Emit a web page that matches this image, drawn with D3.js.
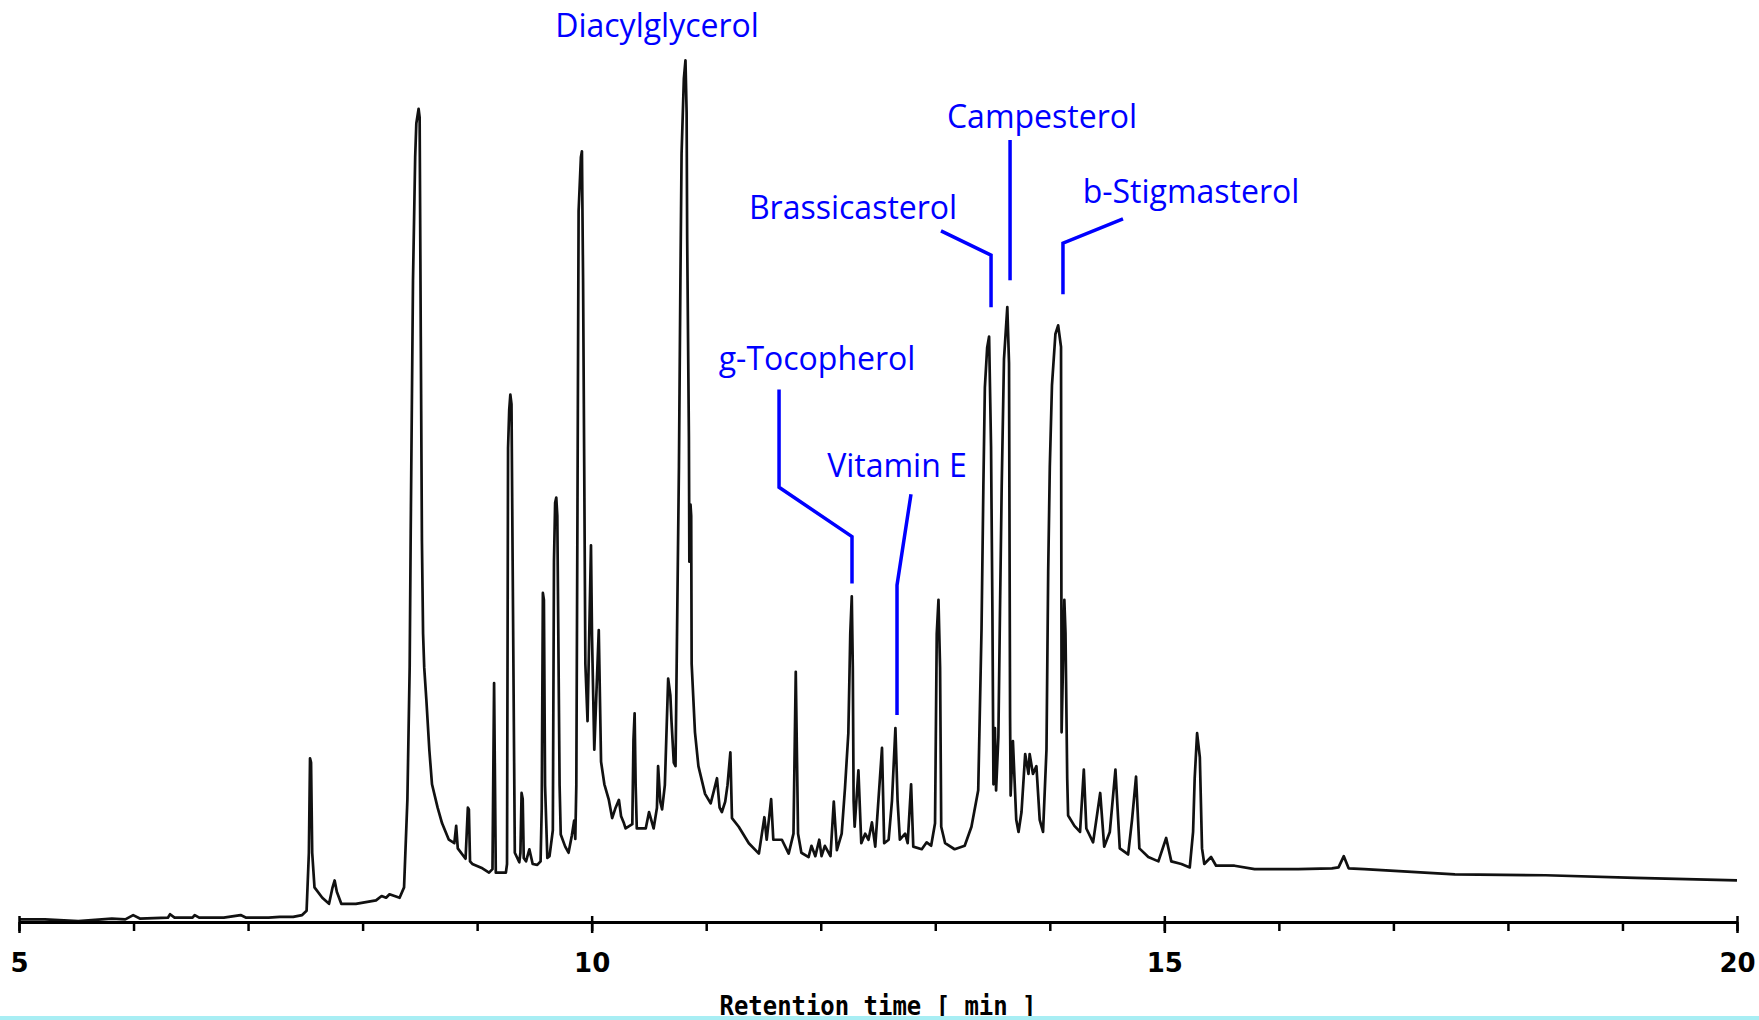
<!DOCTYPE html>
<html>
<head>
<meta charset="utf-8">
<script src="https://cdn.jsdelivr.net/npm/d3@7"></script>
<style>
  body { margin: 0; background: #fff; }
</style>
</head>
<body>
<svg id="chart" width="1759" height="1020"></svg>
<script>
// trace: [retention time (min), signal (% of highest peak)]
var earlyTrace = [[5.000,0.3],[5.225,0.3],[5.518,0.1],[5.811,0.4],[5.928,0.3],[5.997,0.8],[6.055,0.4],[6.300,0.5],[6.319,0.9],[6.358,0.5],[6.515,0.5],[6.534,0.8],[6.573,0.5],[6.788,0.5],[6.935,0.8],[6.984,0.5],[7.179,0.5],[7.277,0.6],[7.394,0.6],[7.472,0.8],[7.511,1.3],[7.531,8.0],[7.541,18.9],[7.550,18.4],[7.560,8.0],[7.580,4.0],[7.648,2.8],[7.707,2.1],[7.736,3.9],[7.756,4.8],[7.775,3.5],[7.814,2.1],[7.941,2.1],[8.117,2.5],[8.166,3.0],[8.205,2.8],[8.235,3.2],[8.323,2.8]];

var midTrace = [[8.362,4.0],[8.391,14.1],[8.411,29.4],[8.420,44.9],[8.440,74.1],[8.459,88.3],[8.469,92.2],[8.489,93.9],[8.498,92.9],[8.508,67.6],[8.518,44.0],[8.528,33.3],[8.538,29.4],[8.557,25.6],[8.583,19.8],[8.606,15.9],[8.655,13.2],[8.694,11.4],[8.753,9.5],[8.801,9.1],[8.817,11.1],[8.831,8.5],[8.899,7.3],[8.919,13.2],[8.928,13.0],[8.938,7.0],[8.958,6.7],[9.046,6.2],[9.104,5.7],[9.134,6.1],[9.148,27.6],[9.163,5.7],[9.251,5.7],[9.261,6.7],[9.270,54.7],[9.280,59.1],[9.290,60.9],[9.300,59.8],[9.310,41.7],[9.329,8.0],[9.368,6.9],[9.378,8.0],[9.388,14.9],[9.398,14.2],[9.407,7.4],[9.427,7.0],[9.456,8.4],[9.485,6.7],[9.525,6.6],[9.554,7.0],[9.564,13.2],[9.574,38.0],[9.583,37.2],[9.593,15.8],[9.613,7.4],[9.632,7.6],[9.661,10.6],[9.671,41.7],[9.681,48.4],[9.691,49.0],[9.700,46.9],[9.720,15.8],[9.730,10.1],[9.769,8.7],[9.798,8.0],[9.827,10.0],[9.847,11.7],[9.857,9.6],[9.866,15.8],[9.876,47.4],[9.886,82.1],[9.906,88.3],[9.915,89.0],[9.925,74.1],[9.935,52.6],[9.945,29.8],[9.964,23.2],[9.994,43.5],[10.003,33.0],[10.023,19.9],[10.062,33.7],[10.082,18.5],[10.111,15.9],[10.150,14.1],[10.179,12.0],[10.209,13.2],[10.238,14.1],[10.257,12.2],[10.282,11.4],[10.296,10.8],[10.355,11.3],[10.365,21.0],[10.375,24.1],[10.384,15.8],[10.394,10.8]];

var dagTrace = [[10.472,10.8],[10.501,12.7],[10.541,10.8],[10.570,13.2],[10.580,18.0],[10.599,13.9],[10.615,13.0],[10.639,15.8],[10.668,28.1],[10.687,26.2],[10.697,23.2],[10.717,18.4],[10.732,18.0],[10.762,52.6],[10.775,74.4],[10.785,88.7],[10.805,97.4],[10.819,99.5],[10.829,93.5],[10.834,78.8],[10.849,56.0],[10.853,41.6],[10.863,48.2],[10.869,46.9],[10.873,29.8],[10.902,21.9],[10.932,18.0],[10.990,14.8],[11.039,13.7],[11.068,15.2],[11.094,16.6],[11.117,13.2],[11.137,12.7],[11.166,13.9],[11.186,15.8],[11.211,19.6],[11.225,12.0],[11.284,11.0],[11.372,9.1],[11.460,7.9],[11.508,12.1],[11.528,9.5],[11.567,14.2],[11.586,9.5],[11.661,9.5],[11.720,7.9],[11.762,10.2],[11.782,28.9],[11.802,10.2],[11.831,8.0],[11.894,7.5],[11.919,8.8],[11.953,7.6],[11.987,9.5],[12.007,7.6],[12.036,8.8],[12.085,7.6],[12.114,13.9],[12.141,8.3],[12.183,10.2],[12.212,15.5],[12.241,21.8],[12.258,33.3],[12.271,37.6],[12.280,29.4],[12.287,14.0],[12.296,11.0]];

var sterolTrace = [[12.329,17.5],[12.354,9.1],[12.388,10.2],[12.417,9.5],[12.447,11.5],[12.476,8.7],[12.535,20.1],[12.554,9.1],[12.593,9.5],[12.622,14.0],[12.652,22.4],[12.671,14.0],[12.691,9.5],[12.737,10.2],[12.759,9.1],[12.789,15.9],[12.808,8.7],[12.882,8.4],[12.925,9.2],[12.964,8.8],[12.998,11.4],[13.013,33.3],[13.028,37.2],[13.042,29.4],[13.052,11.0],[13.086,9.1],[13.169,8.4],[13.257,8.8],[13.316,11.0],[13.375,15.2],[13.404,33.9],[13.420,50.3],[13.433,61.7],[13.453,66.3],[13.470,67.6],[13.487,54.9],[13.499,35.8],[13.508,15.9],[13.521,22.4],[13.531,15.2],[13.551,21.4],[13.565,35.8],[13.580,50.3],[13.600,65.0],[13.629,71.0],[13.644,64.5],[13.653,23.8],[13.658,14.6],[13.678,20.9],[13.707,11.8],[13.727,10.4],[13.753,12.7],[13.785,19.4],[13.814,17.1],[13.824,19.4],[13.853,17.1],[13.883,18.0],[13.912,11.8],[13.941,10.4],[13.971,19.9],[13.986,40.5],[14.000,52.5],[14.019,62.0],[14.049,67.9],[14.073,68.9],[14.098,66.4],[14.103,21.9],[14.127,37.2],[14.137,33.4],[14.152,16.6],[14.160,12.3],[14.215,11.1],[14.264,10.4],[14.297,17.6],[14.319,10.8],[14.378,9.2],[14.440,14.9],[14.475,8.7],[14.524,10.4],[14.573,17.6],[14.611,8.5],[14.684,7.8],[14.718,11.8],[14.753,16.8],[14.782,8.5],[14.860,7.5],[14.948,7.0]];

var lateTrace = [[15.016,9.7],[15.061,7.0],[15.149,6.7],[15.222,6.3],[15.251,10.4],[15.265,16.6],[15.286,21.8],[15.310,19.0],[15.329,8.5],[15.349,6.7],[15.408,7.5],[15.452,6.5],[15.613,6.5],[15.788,6.1],[16.169,6.1],[16.463,6.2],[16.521,6.3],[16.567,7.6],[16.609,6.2],[16.746,6.1],[17.537,5.5],[18.329,5.4],[19.111,5.1],[20.000,4.8]];

var majorTicks = [5, 10, 15, 20];
var minorTicks = [5, 6, 7, 8, 9, 10, 11, 12, 13, 14, 15, 16, 17, 18, 19, 20];
var axisTitle = "Retention time  [ min ]";

// peak names, where the name sits [time, signal] and the leader polyline
var peakNames = ["Diacylglycerol", "g-Tocopherol", "Vitamin E", "Brassicasterol", "Campesterol", "b-Stigmasterol"];
var nameAt = [[10.571, 102.2], [11.968, 63.7], [12.666, 51.4], [12.282, 81.2], [13.932, 91.7], [15.233, 83.0]];
var leaders = [
  [],
  [[11.636, 61.5], [11.636, 50.2], [12.273, 44.5], [12.273, 39.1]],
  [[12.788, 49.4], [12.666, 38.9], [12.666, 23.9]],
  [[13.050, 79.8], [13.487, 77.0], [13.487, 71.0]],
  [[13.653, 90.3], [13.653, 74.1]],
  [[14.639, 81.2], [14.115, 78.4], [14.115, 72.5]]
];

var svg = d3.select("#chart");

var x = d3.scaleLinear().domain([5, 20]).range([19, 1737]);
var y = d3.scaleLinear().domain([0, 100]).range([922, 56]);

var trace = earlyTrace.concat(midTrace, dagTrace, sterolTrace, lateTrace);

var line = d3.line()
  .x(function (d) { return x(d[0]); })
  .y(function (d) { return y(d[1]); });

svg.append("path")
  .datum(trace)
  .attr("d", line)
  .attr("fill", "none")
  .attr("stroke", "#111")
  .attr("stroke-width", 2.7)
  .attr("stroke-linejoin", "round");

// x axis: minor ticks every minute below, major ticks cross the line
var axisG = svg.append("g").attr("transform", "translate(0," + y(0) + ")");

axisG.append("g")
  .call(d3.axisBottom(x).tickValues(minorTicks).tickSize(9).tickSizeOuter(0).tickFormat(""))
  .call(function (g) {
    g.select(".domain").attr("stroke", "#000").attr("stroke-width", 3);
    g.selectAll(".tick line").attr("stroke", "#000").attr("stroke-width", 2.5);
  });

axisG.append("g")
  .call(d3.axisBottom(x).tickValues(majorTicks).tickSize(11).tickSizeOuter(0).tickFormat(d3.format("d")))
  .call(function (g) {
    g.select(".domain").remove();
    g.selectAll(".tick line").attr("y1", -6).attr("stroke", "#000").attr("stroke-width", 2.5);
    g.selectAll(".tick text")
      .attr("y", 41)
      .attr("dy", "0.36em")
      .attr("fill", "#000")
      .style("font-family", "'DejaVu Sans', sans-serif")
      .style("font-weight", "bold")
      .style("font-size", "26px");
  });

svg.append("text")
  .attr("x", (x(5) + x(20)) / 2)
  .attr("y", 1015)
  .attr("text-anchor", "middle")
  .attr("textLength", 317)
  .attr("lengthAdjust", "spacingAndGlyphs")
  .style("font-family", "'DejaVu Sans Mono', monospace")
  .style("font-weight", "bold")
  .style("font-size", "27px")
  .attr("fill", "#000")
  .text(axisTitle);

// peak annotations
var leaderLine = d3.line()
  .x(function (d) { return x(d[0]); })
  .y(function (d) { return y(d[1]); });

svg.append("g").selectAll("path")
  .data(leaders.filter(function (d) { return d.length > 0; }))
  .enter().append("path")
  .attr("d", leaderLine)
  .attr("fill", "none")
  .attr("stroke", "#0000ff")
  .attr("stroke-width", 3.5);

svg.append("g").selectAll("text")
  .data(peakNames)
  .enter().append("text")
  .attr("x", function (d, i) { return x(nameAt[i][0]); })
  .attr("y", function (d, i) { return y(nameAt[i][1]); })
  .attr("text-anchor", "middle")
  .attr("fill", "#0000ff")
  .style("font-family", "'Open Sans', sans-serif")
  .style("font-size", "32px")
  .text(function (d) { return d; });

// thin cyan strip along the bottom edge of the slide
svg.append("rect")
  .attr("x", 0).attr("y", 1016)
  .attr("width", 1759).attr("height", 4)
  .attr("fill", "#a8eef4");
</script>
</body>
</html>
